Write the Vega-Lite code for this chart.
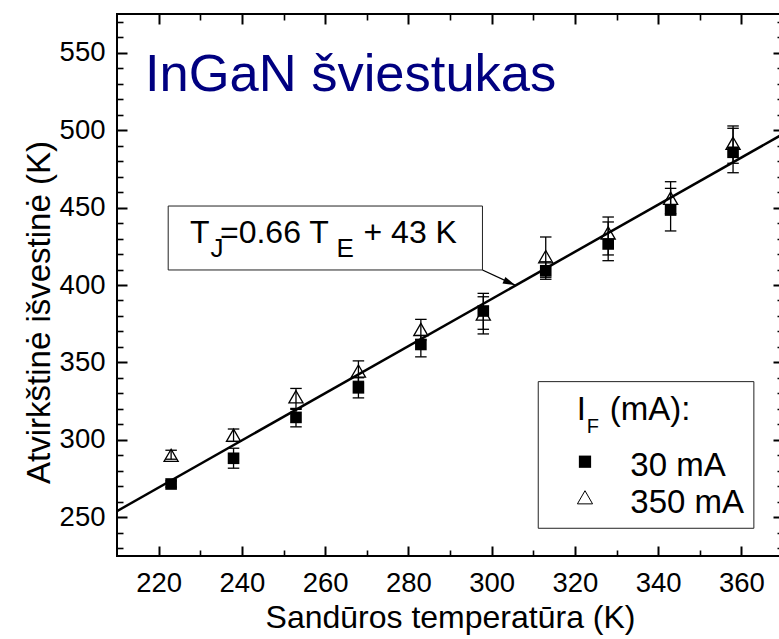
{
  "$schema": "https://vega.github.io/schema/vega-lite/v6.json",
  "width": 666,
  "height": 542,
  "autosize": {"type": "none"},
  "padding": {"left": 117, "top": 14, "right": -4, "bottom": 83},
  "background": "white",
  "config": {
    "view": {"stroke": "black", "strokeWidth": 2},
    "axis": {"grid": false, "domain": false, "labelFont": "Liberation Sans", "titleFont": "Liberation Sans", "labelColor": "black", "titleColor": "black", "tickColor": "black", "titleFontWeight": "normal", "labelOverlap": false, "labelFlush": false}
  },
  "datasets": {
    "one": [{}],
    "fit": [{"T": 210, "V": 254}, {"T": 370, "V": 497.5}],
    "pts": [
      {"T": 223, "V": 271.5, "lo": 269.5, "hi": 273.5, "I": "30 mA"},
      {"T": 238, "V": 288.1, "lo": 281.7, "hi": 294.6, "I": "30 mA"},
      {"T": 253, "V": 314.5, "lo": 308.4, "hi": 319.7, "I": "30 mA"},
      {"T": 268, "V": 333.6, "lo": 327.1, "hi": 340.1, "I": "30 mA"},
      {"T": 283, "V": 361.6, "lo": 353.6, "hi": 367.5, "I": "30 mA"},
      {"T": 298, "V": 383.2, "lo": 371.4, "hi": 394.6, "I": "30 mA"},
      {"T": 313, "V": 409.2, "lo": 403.7, "hi": 415.0, "I": "30 mA"},
      {"T": 328, "V": 426.5, "lo": 415.7, "hi": 440.7, "I": "30 mA"},
      {"T": 343, "V": 448.4, "lo": 434.9, "hi": 462.4, "I": "30 mA"},
      {"T": 358, "V": 485.7, "lo": 472.5, "hi": 501.2, "I": "30 mA"},
      {"T": 223, "V": 290.0, "lo": 287.5, "hi": 293.3, "I": "350 mA"},
      {"T": 238, "V": 303.0, "lo": 299.0, "hi": 307.0, "I": "350 mA"},
      {"T": 253, "V": 327.8, "lo": 320.3, "hi": 333.2, "I": "350 mA"},
      {"T": 268, "V": 344.4, "lo": 337.8, "hi": 351.0, "I": "350 mA"},
      {"T": 283, "V": 371.3, "lo": 364.5, "hi": 377.8, "I": "350 mA"},
      {"T": 298, "V": 381.3, "lo": 368.4, "hi": 392.4, "I": "350 mA"},
      {"T": 313, "V": 418.3, "lo": 405.0, "hi": 431.0, "I": "350 mA"},
      {"T": 328, "V": 433.6, "lo": 419.4, "hi": 443.9, "I": "350 mA"},
      {"T": 343, "V": 456.0, "lo": 446.0, "hi": 466.7, "I": "350 mA"},
      {"T": 358, "V": 491.5, "lo": 478.6, "hi": 502.7, "I": "350 mA"}
    ]
  },
  "layer": [
    {
      "data": {"name": "fit"},
      "mark": {"type": "line", "color": "black", "strokeWidth": 2.5, "clip": true},
      "encoding": {
        "x": {"field": "T", "type": "quantitative", "scale": {"domain": [210, 370], "nice": false, "zero": false},
          "axis": {"orient": "bottom", "values": [220, 240, 260, 280, 300, 320, 340, 360], "ticks": false, "labelFontSize": 27.5, "labelPadding": 13,
            "title": "Sandūros temperatūra (K)", "titleFontSize": 32, "titleX": 333, "titleY": 71, "titleBaseline": "alphabetic", "titleAlign": "center"}},
        "y": {"field": "V", "type": "quantitative", "scale": {"domain": [225, 575], "nice": false, "zero": false},
          "axis": {"orient": "left", "values": [250, 300, 350, 400, 450, 500, 550], "ticks": false, "labelFontSize": 27.5, "labelPadding": 12,
            "title": "Atvirkštinė išvestinė (K)", "titleFontSize": 33, "titleAngle": -90, "titleX": -68, "titleY": 298, "titleBaseline": "alphabetic", "titleAlign": "center"}}
      }
    },
    {
      "data": {"name": "pts"},
      "mark": {"type": "rule", "color": "black", "strokeWidth": 1.3},
      "encoding": {
        "x": {"field": "T", "type": "quantitative",
          "axis": {"orient": "bottom", "values": [220, 240, 260, 280, 300, 320, 340, 360], "labels": false, "title": null, "tickSize": -10, "tickWidth": 2}},
        "y": {"field": "lo", "type": "quantitative",
          "axis": {"orient": "left", "values": [250, 300, 350, 400, 450, 500, 550], "labels": false, "title": null, "tickSize": -10, "tickWidth": 2}},
        "y2": {"field": "hi"}
      }
    },
    {
      "data": {"name": "pts"},
      "mark": {"type": "tick", "orient": "horizontal", "color": "black", "size": 11.5, "thickness": 1.3, "opacity": 1},
      "encoding": {
        "x": {"field": "T", "type": "quantitative",
          "axis": {"orient": "bottom", "values": [230, 250, 270, 290, 310, 330, 350], "labels": false, "title": null, "tickSize": -6, "tickWidth": 1.6}},
        "y": {"field": "lo", "type": "quantitative",
          "axis": {"orient": "left", "values": [230, 240, 260, 270, 280, 290, 310, 320, 330, 340, 360, 370, 380, 390, 410, 420, 430, 440, 460, 470, 480, 490, 510, 520, 530, 540, 560, 570], "labels": false, "title": null, "tickSize": -6, "tickWidth": 1.6}}
      }
    },
    {
      "data": {"name": "pts"},
      "mark": {"type": "tick", "orient": "horizontal", "color": "black", "size": 11.5, "thickness": 1.3, "opacity": 1},
      "encoding": {
        "x": {"field": "T", "type": "quantitative",
          "axis": {"orient": "top", "values": [220, 240, 260, 280, 300, 320, 340, 360], "labels": false, "title": null, "tickSize": -10, "tickWidth": 2}},
        "y": {"field": "hi", "type": "quantitative",
          "axis": {"orient": "right", "values": [250, 300, 350, 400, 450, 500, 550], "labels": false, "title": null, "tickSize": -10, "tickWidth": 2}}
      }
    },
    {
      "data": {"name": "pts"},
      "transform": [{"filter": "datum.I === '30 mA'"}],
      "mark": {"type": "point", "shape": "square", "filled": true, "color": "black", "size": 135, "opacity": 1},
      "encoding": {
        "x": {"field": "T", "type": "quantitative",
          "axis": {"orient": "top", "values": [230, 250, 270, 290, 310, 330, 350], "labels": false, "title": null, "tickSize": -6, "tickWidth": 1.6}},
        "y": {"field": "V", "type": "quantitative",
          "axis": {"orient": "right", "values": [230, 240, 260, 270, 280, 290, 310, 320, 330, 340, 360, 370, 380, 390, 410, 420, 430, 440, 460, 470, 480, 490, 510, 520, 530, 540, 560, 570], "labels": false, "title": null, "tickSize": -6, "tickWidth": 1.6}}
      }
    },
    {
      "data": {"name": "pts"},
      "transform": [{"filter": "datum.I === '350 mA'"}],
      "mark": {"type": "point", "shape": "triangle-up", "filled": false, "stroke": "black", "strokeWidth": 1.3, "size": 200, "opacity": 1},
      "encoding": {
        "x": {"field": "T", "type": "quantitative", "axis": null},
        "y": {"field": "V", "type": "quantitative", "axis": null}
      }
    },
    {
      "data": {"name": "one"},
      "mark": {"type": "rect", "fill": "white", "stroke": "#222222", "strokeWidth": 1},
      "encoding": {
        "x": {"datum": 222.3, "axis": null}, "x2": {"datum": 297.8},
        "y": {"datum": 451.0, "axis": null}, "y2": {"datum": 409.7}
      }
    },
    {
      "data": {"name": "one"},
      "mark": {"type": "rule", "color": "black", "strokeWidth": 1.3},
      "encoding": {
        "x": {"datum": 297.8, "axis": null}, "x2": {"datum": 305.6},
        "y": {"datum": 409.7, "axis": null}, "y2": {"datum": 400.0}
      }
    },
    {
      "data": {"name": "one"},
      "mark": {"type": "point", "shape": "M0,0L-1,-0.3L-1,0.3Z", "filled": true, "color": "black", "size": 576, "angle": 23.6, "opacity": 1},
      "encoding": {
        "x": {"datum": 305.6, "axis": null},
        "y": {"datum": 400.0, "axis": null}
      }
    },
    {
      "data": {"name": "one"},
      "mark": {"type": "text", "text": "T", "font": "Liberation Sans", "fontSize": 32, "color": "black", "align": "left", "baseline": "alphabetic"},
      "encoding": {"x": {"datum": 227.54, "axis": null}, "y": {"datum": 426.92, "axis": null}}
    },
    {
      "data": {"name": "one"},
      "mark": {"type": "text", "text": "J", "font": "Liberation Sans", "fontSize": 26, "color": "black", "align": "left", "baseline": "alphabetic"},
      "encoding": {"x": {"datum": 232.46, "axis": null}, "y": {"datum": 418.4, "axis": null}}
    },
    {
      "data": {"name": "one"},
      "mark": {"type": "text", "text": "=0.66 T", "font": "Liberation Sans", "fontSize": 32, "color": "black", "align": "left", "baseline": "alphabetic"},
      "encoding": {"x": {"datum": 234.74, "axis": null}, "y": {"datum": 426.92, "axis": null}}
    },
    {
      "data": {"name": "one"},
      "mark": {"type": "text", "text": "E", "font": "Liberation Sans", "fontSize": 26, "color": "black", "align": "left", "baseline": "alphabetic"},
      "encoding": {"x": {"datum": 262.73, "axis": null}, "y": {"datum": 418.4, "axis": null}}
    },
    {
      "data": {"name": "one"},
      "mark": {"type": "text", "text": "+ 43 K", "font": "Liberation Sans", "fontSize": 32, "color": "black", "align": "left", "baseline": "alphabetic"},
      "encoding": {"x": {"datum": 269.22, "axis": null}, "y": {"datum": 426.92, "axis": null}}
    },
    {
      "data": {"name": "one"},
      "mark": {"type": "text", "text": "InGaN šviestukas", "font": "Liberation Sans", "fontSize": 52.5, "color": "#000080", "align": "left", "baseline": "alphabetic"},
      "encoding": {"x": {"datum": 216.7, "axis": null}, "y": {"datum": 525.3, "axis": null}}
    },
    {
      "data": {"name": "one"},
      "mark": {"type": "rect", "fill": "white", "stroke": "#222222", "strokeWidth": 1},
      "encoding": {
        "x": {"datum": 311.2, "axis": null}, "x2": {"datum": 363.0},
        "y": {"datum": 337.6, "axis": null}, "y2": {"datum": 242.9}
      }
    },
    {
      "data": {"name": "one"},
      "mark": {"type": "text", "text": "I", "font": "Liberation Sans", "fontSize": 33, "color": "black", "align": "left", "baseline": "alphabetic"},
      "encoding": {"x": {"datum": 320.44, "axis": null}, "y": {"datum": 312.82, "axis": null}}
    },
    {
      "data": {"name": "one"},
      "mark": {"type": "text", "text": "F", "font": "Liberation Sans", "fontSize": 20, "color": "black", "align": "left", "baseline": "alphabetic"},
      "encoding": {"x": {"datum": 322.84, "axis": null}, "y": {"datum": 304.23, "axis": null}}
    },
    {
      "data": {"name": "one"},
      "mark": {"type": "text", "text": "(mA):", "font": "Liberation Sans", "fontSize": 33, "color": "black", "align": "left", "baseline": "alphabetic"},
      "encoding": {"x": {"datum": 328.4, "axis": null}, "y": {"datum": 312.82, "axis": null}}
    },
    {
      "data": {"name": "one"},
      "mark": {"type": "point", "shape": "square", "filled": true, "color": "black", "size": 150, "opacity": 1},
      "encoding": {"x": {"datum": 322.43, "axis": null}, "y": {"datum": 285.89, "axis": null}}
    },
    {
      "data": {"name": "one"},
      "mark": {"type": "text", "text": "30 mA", "font": "Liberation Sans", "fontSize": 33, "color": "black", "align": "left", "baseline": "alphabetic"},
      "encoding": {"x": {"datum": 333.32, "axis": null}, "y": {"datum": 276.66, "axis": null}}
    },
    {
      "data": {"name": "one"},
      "mark": {"type": "point", "shape": "triangle-up", "filled": false, "stroke": "black", "strokeWidth": 1, "size": 230, "opacity": 1},
      "encoding": {"x": {"datum": 322.43, "axis": null}, "y": {"datum": 262.91, "axis": null}}
    },
    {
      "data": {"name": "one"},
      "mark": {"type": "text", "text": "350 mA", "font": "Liberation Sans", "fontSize": 33, "color": "black", "align": "left", "baseline": "alphabetic"},
      "encoding": {"x": {"datum": 333.32, "axis": null}, "y": {"datum": 252.57, "axis": null}}
    }
  ],
  "resolve": {"axis": {"x": "independent", "y": "independent"}}
}
